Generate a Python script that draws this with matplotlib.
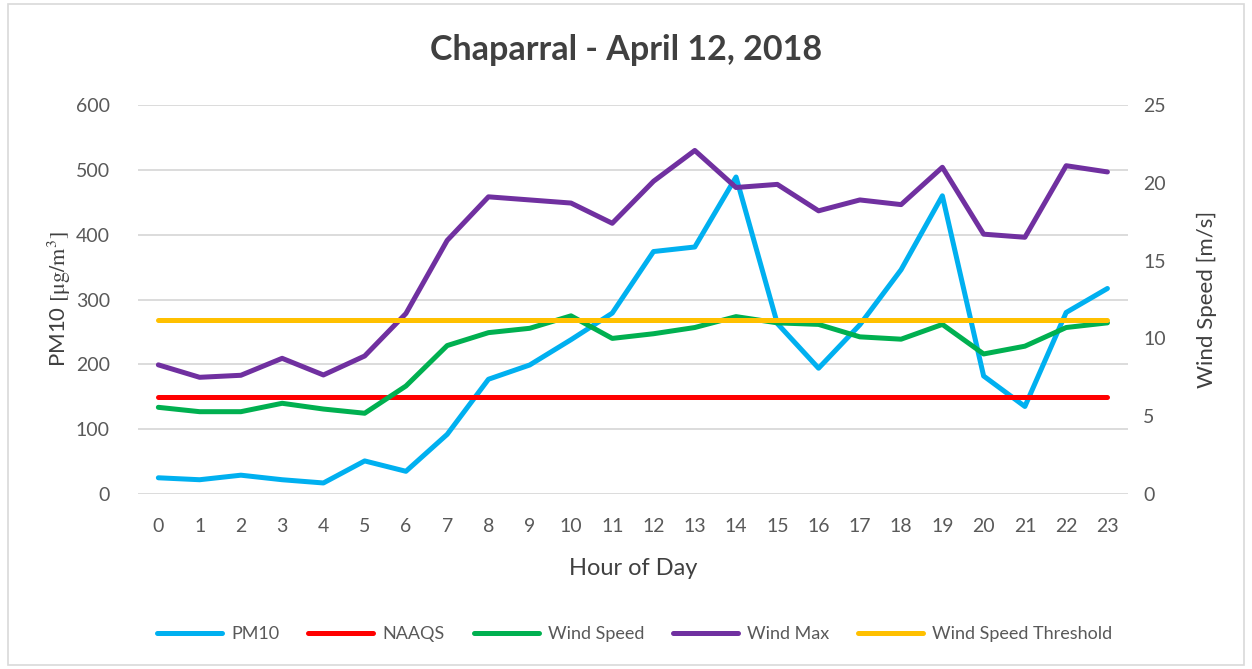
import matplotlib
matplotlib.use("Agg")
import matplotlib.pyplot as plt
from matplotlib.patches import Rectangle

hours = list(range(24))
pm10 = [25, 22, 29, 22, 17, 51, 35, 92, 177, 199, 238, 279, 374, 381, 489, 263, 194, 261, 346, 460, 182, 135, 280, 317]
naaqs = [150] * 24
wind_speed = [5.57, 5.29, 5.29, 5.83, 5.46, 5.19, 6.94, 9.54, 10.37, 10.65, 11.45, 10.0, 10.3, 10.7, 11.4, 11.0, 10.9, 10.1, 9.95, 10.9, 9.0, 9.5, 10.7, 11.0]
wind_max = [8.3, 7.5, 7.63, 8.72, 7.65, 8.87, 11.6, 16.3, 19.1, 18.9, 18.7, 17.4, 20.1, 22.08, 19.7, 19.9, 18.2, 18.9, 18.6, 21.0, 16.7, 16.5, 21.1, 20.7]
threshold = [11.2] * 24

title = "Chaparral - April 12, 2018"
left_ticks = [0, 100, 200, 300, 400, 500, 600]
right_ticks = [0, 5, 10, 15, 20, 25]

plt.rcParams['font.family'] = ['Lato', 'DejaVu Sans']
plt.rcParams['mathtext.fontset'] = 'stix'
txt = '#404040'
tick_c = '#595959'

fig = plt.figure(figsize=(12.52, 6.69), dpi=100)
fig.patches.append(Rectangle((0.006, 0.006), 0.988, 0.988, transform=fig.transFigure,
                             fill=False, edgecolor='#d9d9d9', linewidth=1.2))
ax = fig.add_axes([0.110, 0.2616, 0.791, 0.5814])
ax2 = ax.twinx()

lw = 3.6
l1, = ax.plot(hours, pm10, color='#00b0f0', lw=lw, label='PM10', solid_capstyle='round', solid_joinstyle='round')
l2, = ax.plot(hours, naaqs, color='#ff0000', lw=lw, label='NAAQS', solid_capstyle='round')
l3, = ax2.plot(hours, wind_speed, color='#00b050', lw=lw, label='Wind Speed', solid_capstyle='round', solid_joinstyle='round')
l4, = ax2.plot(hours, wind_max, color='#7030a0', lw=lw, label='Wind Max', solid_capstyle='round', solid_joinstyle='round')
l5, = ax2.plot(hours, threshold, color='#ffc000', lw=lw, label='Wind Speed Threshold', solid_capstyle='round')

ax.set_xlim(-0.5, 23.5)
ax.set_ylim(0, 600)
ax2.set_ylim(0, 25)
ax.set_yticks(left_ticks)
ax2.set_yticks(right_ticks)
ax.set_xticks(hours)
ax.grid(axis='y', color='#d9d9d9', lw=1.3)
ax.set_axisbelow(True)
for a in (ax, ax2):
    for s in a.spines.values():
        s.set_visible(False)
    a.tick_params(length=0, labelsize=14, colors=tick_c)
ax.tick_params(axis='y', pad=20)
ax2.tick_params(axis='y', pad=11)
ax.tick_params(axis='x', pad=17)

ax.set_xlabel('Hour of Day', fontsize=17, color=txt, labelpad=17)
ax.set_ylabel(r'PM10 $[\mathrm{\mu g/m^3}]$', fontsize=16, color=txt, labelpad=2)
ax2.set_ylabel('Wind Speed [m/s]', fontsize=16, color=txt, labelpad=22)
fig.text(0.5, 0.925, title, ha='center', va='center', fontsize=24.5, fontweight='bold', color=txt)

fig.legend(handles=[l1, l2, l3, l4, l5], loc='center', bbox_to_anchor=(0.507, 0.052),
           ncol=5, frameon=False, fontsize=13, handlelength=3.6, columnspacing=1.6,
           handletextpad=0.5, labelcolor=tick_c)

fig.savefig('out.png', dpi=100)
